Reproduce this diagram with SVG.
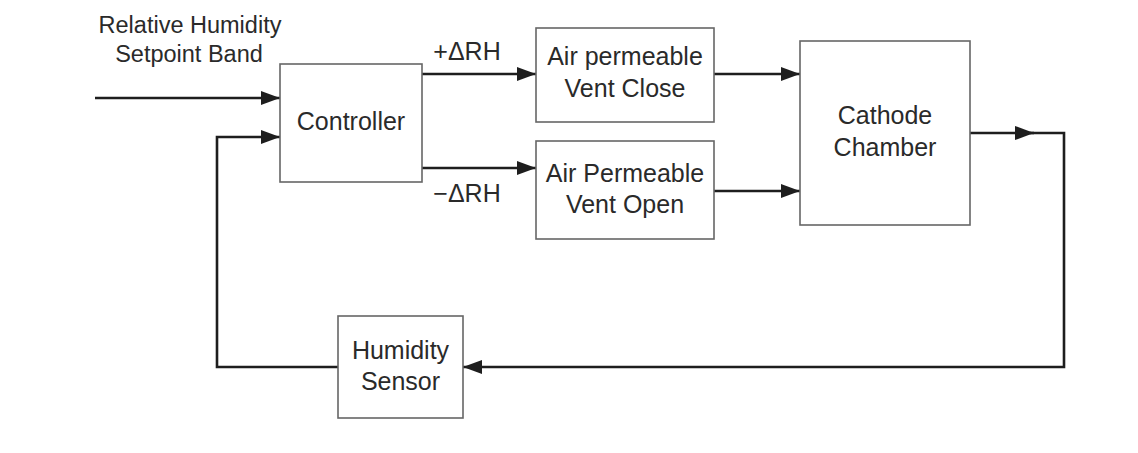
<svg xmlns="http://www.w3.org/2000/svg" width="1138" height="453" viewBox="0 0 1138 453">
<style>
.box{fill:#fff;stroke:#666;stroke-width:1.6}
.t{font-family:"Liberation Sans",Arial,sans-serif;font-size:25px;fill:#2a2a2a;text-anchor:middle}
.lbl{font-family:"Liberation Sans",Arial,sans-serif;font-size:23.5px;fill:#2a2a2a;text-anchor:middle}
.ln{fill:none;stroke:#1e1e1e;stroke-width:2.6}
</style>
<defs>
<marker id="ah" markerUnits="userSpaceOnUse" markerWidth="20" markerHeight="14" refX="19" refY="7" orient="auto">
<path d="M0,0 L19,7 L0,14 Z" fill="#1e1e1e"/>
</marker>
</defs>
<rect width="1138" height="453" fill="#fff"/>
<g id="connectors">
<line class="ln" x1="95" y1="98" x2="280" y2="98" marker-end="url(#ah)"/>
<line class="ln" x1="422" y1="74" x2="536" y2="74" marker-end="url(#ah)"/>
<line class="ln" x1="422" y1="168" x2="536" y2="168" marker-end="url(#ah)"/>
<line class="ln" x1="714" y1="74" x2="800" y2="74" marker-end="url(#ah)"/>
<line class="ln" x1="714" y1="191" x2="800" y2="191" marker-end="url(#ah)"/>
<line class="ln" x1="970" y1="133" x2="1034" y2="133" marker-end="url(#ah)"/>
<polyline class="ln" points="1030,133 1064,133 1064,367 463,367" marker-end="url(#ah)"/>
<polyline class="ln" points="338,367 217,367 217,137 280,137" marker-end="url(#ah)"/>
<text class="lbl" x="190" y="33">Relative Humidity</text>
<text class="lbl" x="189" y="62">Setpoint Band</text>
<text class="t" x="467" y="60">+ΔRH</text>
<text class="t" x="467" y="202">−ΔRH</text>
</g>
<g id="controller">
<rect class="box" x="280" y="64" width="142" height="118"/>
<text class="t" x="351" y="130">Controller</text>
</g>
<g id="vent-close">
<rect class="box" x="536" y="28" width="178" height="94"/>
<text class="t" x="625" y="65">Air permeable</text>
<text class="t" x="625" y="97">Vent Close</text>
</g>
<g id="vent-open">
<rect class="box" x="536" y="141" width="178" height="98"/>
<text class="t" x="625" y="182">Air Permeable</text>
<text class="t" x="625" y="213">Vent Open</text>
</g>
<g id="cathode-chamber">
<rect class="box" x="800" y="41" width="170" height="184"/>
<text class="t" x="885" y="124">Cathode</text>
<text class="t" x="885" y="156">Chamber</text>
</g>
<g id="humidity-sensor">
<rect class="box" x="338" y="316" width="125" height="102"/>
<text class="t" x="400.5" y="359">Humidity</text>
<text class="t" x="400.5" y="390">Sensor</text>
</g>
</svg>
